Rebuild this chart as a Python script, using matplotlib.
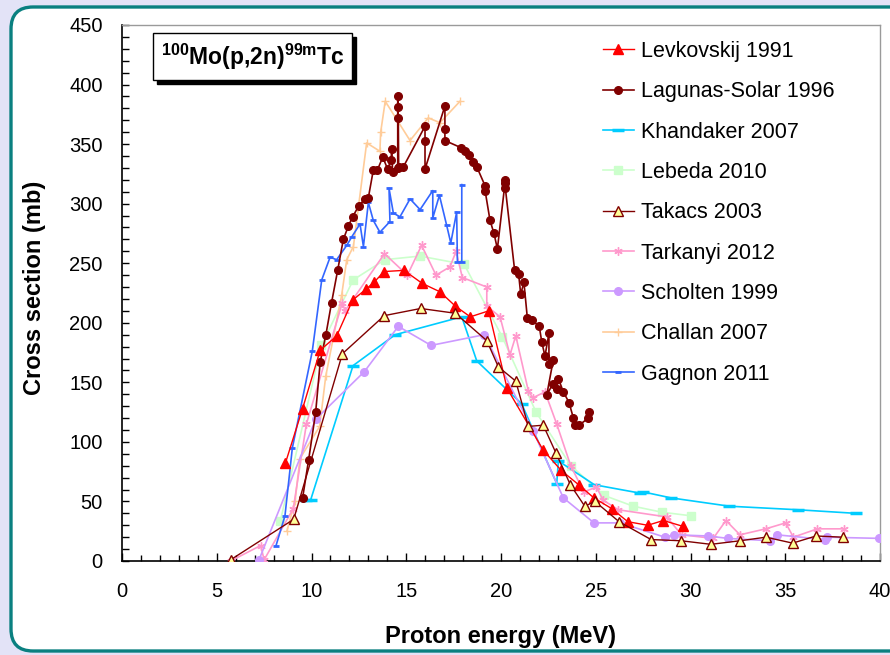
import numpy as np
import matplotlib
matplotlib.use("Agg")
import matplotlib.pyplot as plt
from matplotlib.patches import FancyBboxPatch, Rectangle
from matplotlib.ticker import MultipleLocator

plt.rcParams['font.family'] = ['Liberation Sans', 'DejaVu Sans']
plt.rcParams['mathtext.fontset'] = 'custom'
plt.rcParams['mathtext.rm'] = 'Liberation Sans'
plt.rcParams['mathtext.bf'] = 'Liberation Sans:bold'

# data (E in MeV, sigma in mb)
levk_e = [8.62, 9.53, 10.46, 11.33, 12.17, 12.86, 13.3, 13.83, 14.88, 15.85, 16.78, 17.59,
          18.38, 19.35, 20.32, 22.23, 23.18, 24.1, 24.9, 25.84, 26.69, 27.74, 28.57, 29.62]
levk_s = [82, 128, 177, 189, 219, 228, 234, 243, 244, 233, 226, 214,
          205, 210, 145, 93, 76, 64, 53, 44, 33, 30, 34, 29]

lag_e = [9.53, 9.85, 10.22, 10.46, 10.76, 11.06, 11.38, 11.68, 11.94, 12.17, 12.49, 12.82,
         13.0, 13.26, 13.47, 13.76, 14.02, 14.2, 14.23, 14.28, 14.55, 14.55, 14.57, 14.58,
         14.6, 14.85, 15.99, 15.99, 15.99, 17.04, 17.04, 17.04, 17.89, 18.1, 18.33, 18.54,
         18.72, 19.16, 19.16, 19.42, 19.63, 19.81, 20.23, 20.23, 20.23, 20.72, 20.93, 21.04,
         21.21, 21.39, 21.65, 22.02, 22.15, 22.32, 22.53, 22.53, 22.76, 22.41, 22.74, 22.94,
         23.03, 23.29, 23.59, 23.82, 23.91, 24.12, 24.61, 24.64]
lag_s = [53, 85, 125, 167, 190, 217, 244, 270, 281, 289, 298, 304,
         305, 328, 328, 339, 329, 337, 346, 327, 330, 390, 381, 372,
         331, 331, 365, 353, 329, 382, 363, 353, 347, 344, 341, 335,
         331, 315, 311, 286, 275, 262, 320, 317, 313, 244, 241, 224,
         234, 204, 202, 197, 184, 172, 191, 165, 169, 139, 149, 144,
         153, 142, 133, 120, 114, 114, 120, 125]

khan_e = [9.7, 9.95, 12.19, 14.42, 17.93, 18.72, 21.09, 22.94, 23.03, 24.93, 27.33, 27.5,
          28.97, 32.05, 35.69, 38.73]
khan_s = [51, 51, 164, 190, 205, 168, 132, 65, 84, 64, 57, 58,
          53, 46, 43, 40]

leb_e = [8.36, 10.52, 12.2, 13.88, 15.73, 18.06, 20.07, 21.85, 23.69, 25.45, 26.98, 28.48, 30.0]
leb_s = [34, 181, 236, 253, 256, 249, 188, 125, 80, 55, 46, 41, 38]

tak_e = [5.73, 9.06, 11.63, 13.84, 15.76, 17.59, 19.25, 19.86, 20.78, 21.44, 22.23, 22.89,
         23.66, 24.42, 24.96, 26.23, 27.92, 29.5, 31.08, 32.62, 33.98, 35.39, 36.62, 38.03]
tak_s = [1, 35, 174, 206, 212, 208, 185, 163, 151, 113, 114, 91,
         64, 46, 50, 33, 18, 17, 14, 17, 20, 15, 21, 20]

tark_e = [5.73, 7.32, 7.5, 9.04, 9.73, 11.63, 11.77, 13.85, 15.06, 15.81, 16.57, 17.31,
          17.63, 17.96, 19.25, 19.25, 19.95, 20.47, 20.78, 21.44, 21.68, 22.32, 22.94, 23.68,
          24.37, 25.03, 25.4, 26.19, 28.74, 29.53, 31.2, 31.87, 32.61, 33.97, 35.02, 35.43,
          36.69, 38.1]
tark_s = [0, 13, 1, 44, 115, 217, 210, 258, 240, 265, 240, 247,
          260, 238, 230, 214, 205, 173, 189, 143, 137, 142, 115, 80,
          58, 62, 51, 43, 37, 22, 19, 34, 22, 27, 32, 20,
          27, 27]

sch_e = [7.23, 10.22, 12.79, 14.58, 16.31, 19.12, 21.7, 23.29, 24.91, 26.28, 28.65, 29.13,
         30.94, 31.96, 34.19, 34.55, 37.1, 37.19, 39.95]
sch_s = [1, 119, 159, 197, 181, 190, 109, 53, 32, 32, 20, 22,
         21, 19, 17, 22, 18, 20, 19]

chal_e = [8.7, 9.13, 9.39, 10.43, 10.75, 11.59, 11.86, 12.21, 12.91, 13.61, 13.65, 13.89,
          15.2, 16.16, 16.78, 17.84]
chal_s = [25, 50, 86, 113, 155, 223, 253, 264, 351, 344, 360, 386,
          353, 372, 368, 386]

gag_e = [8.13, 8.6, 8.99, 10.04, 10.54, 10.98, 11.33, 11.86, 12.12, 12.56, 12.74, 13.0,
         13.26, 13.61, 14.14, 14.09, 14.32, 14.67, 15.2, 15.73, 16.4, 16.4, 16.75, 17.13,
         17.35, 17.66, 17.7, 17.93, 17.93]
gag_s = [13, 38, 95, 176, 236, 255, 253, 265, 272, 283, 264, 301,
         286, 276, 285, 313, 292, 289, 304, 295, 311, 288, 307, 282,
         267, 293, 251, 251, 316]

fig = plt.figure(figsize=(8.9, 6.55), dpi=100)
fig.patch.set_facecolor('#e3e3f7')

# rounded teal frame
frame = FancyBboxPatch((0.11, 0.04), 9.3, 6.44, boxstyle="round,pad=0,rounding_size=0.22",
                       transform=fig.dpi_scale_trans, facecolor='white',
                       edgecolor='#0a8080', linewidth=2.4, zorder=-10)
fig.patches.append(frame)

ax = fig.add_axes([122 / 890, 1 - 561 / 655, 758 / 890, 536 / 655])
ax.set_facecolor('white')

lw = 1.0
ax.plot(levk_e, levk_s, color='#ff0000', lw=lw, marker='^', ms=7, mec='#ff0000', mfc='#ff0000',
        label='Levkovskij 1991', zorder=5)
ax.plot(lag_e, lag_s, color='#800000', lw=1.2, marker='o', ms=5.5, mec='#800000', mfc='#800000',
        label='Lagunas-Solar 1996', zorder=4)
ax.plot(khan_e, khan_s, color='#00ccff', lw=1.2, marker='_', ms=8, mew=2.5,
        label='Khandaker 2007', zorder=3)
ax.plot(leb_e, leb_s, color='#ccffcc', lw=1.2, marker='s', ms=6, mec='#ccffcc', mfc='#ccffcc',
        label='Lebeda 2010', zorder=2)
ax.plot(tak_e, tak_s, color='#800000', lw=lw, marker='^', ms=7, mec='#800000', mfc='#ffff99',
        mew=1.0, label='Takacs 2003', zorder=6)
ax.plot(tark_e, tark_s, color='#ff99cc', lw=1.2, marker=(6, 2, 0), ms=6, mew=1.0,
        label='Tarkanyi 2012', zorder=3)
ax.plot(sch_e, sch_s, color='#cc99ff', lw=1.2, marker='o', ms=5.5, mec='#cc99ff', mfc='#cc99ff',
        label='Scholten 1999', zorder=3)
ax.plot(chal_e, chal_s, color='#ffcc99', lw=1.2, marker='+', ms=6, mew=1.0,
        label='Challan 2007', zorder=2)
ax.plot(gag_e, gag_s, color='#3366ff', lw=1.2, marker='_', ms=5, mew=2.0,
        label='Gagnon 2011', zorder=3)

ax.set_xlim(0, 40)
ax.set_ylim(0, 450)
ax.xaxis.set_major_locator(MultipleLocator(5))
ax.xaxis.set_minor_locator(MultipleLocator(1))
ax.yaxis.set_major_locator(MultipleLocator(50))
ax.yaxis.set_minor_locator(MultipleLocator(10))
ax.tick_params(axis='both', which='both', direction='in', width=1.0, labelsize=14.5,
               top=False, right=False)
ax.tick_params(axis='x', which='major', length=6, pad=15)
ax.tick_params(axis='x', which='minor', length=4)
ax.tick_params(axis='y', which='major', length=5, pad=14)
ax.tick_params(axis='y', which='minor', length=5)
for s in ['left', 'bottom']:
    ax.spines[s].set_color('black')
    ax.spines[s].set_linewidth(1.2)
for s in ['top', 'right']:
    ax.spines[s].set_color('#9a9a9a')
    ax.spines[s].set_linewidth(1.0)

fig.text(500 / 890, 1 - 636 / 655, 'Proton energy (MeV)', ha='center', va='center',
         fontsize=17, fontweight='bold')
fig.text(35 / 890, 1 - 288 / 655, 'Cross section (mb)', ha='center', va='center',
         rotation=90, fontsize=17, fontweight='bold')

# reaction label box with shadow
bx0, by0, bw, bh = 153 / 890, 1 - 80 / 655, 199 / 890, 47 / 655
fig.patches.append(Rectangle((bx0 + 4 / 890, by0 - 4 / 655), bw, bh, transform=fig.transFigure,
                             facecolor='black', edgecolor='black', zorder=10))
fig.patches.append(Rectangle((bx0, by0), bw, bh, transform=fig.transFigure,
                             facecolor='white', edgecolor='black', lw=1.0, zorder=11))
fig.text(bx0 + bw / 2, by0 + bh / 2, r'$\mathbf{^{100}Mo(p{,}2n)^{99m}Tc}$', ha='center',
         va='center', fontsize=16.5, zorder=12)

leg = ax.legend(loc='upper left', bbox_to_anchor=(592 / 890, 1 - 30 / 655),
                bbox_transform=fig.transFigure, frameon=False, fontsize=15.5,
                handlelength=1.45, handletextpad=0.33, labelspacing=0.9, borderpad=0,
                markerscale=1.0)

fig.savefig('out.png', dpi=100, facecolor=fig.get_facecolor())
